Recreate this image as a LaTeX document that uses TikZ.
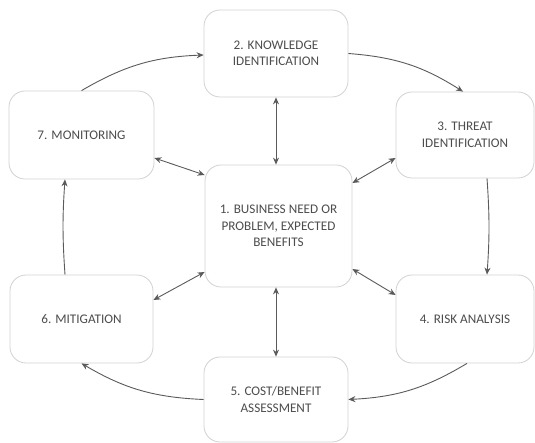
\documentclass[tikz,border=0pt]{standalone}
\usepackage{fontspec}
\setmainfont{Carlito}
\usetikzlibrary{arrows.meta,positioning}
\definecolor{boxline}{HTML}{D2D2D2}
\definecolor{arrowc}{HTML}{5A5A5A}
\definecolor{textc}{HTML}{4D4D4D}
\tikzset{
  stagebox/.style={draw=boxline, line width=0.8pt, rounded corners=16pt, fill=white,
    align=center, text=textc, font=\fontsize{13.2}{16.5}\selectfont, inner sep=2pt},
  flow/.style={draw=arrowc, line width=0.9pt, -{Stealth[length=7pt,width=6pt]}},
  both/.style={draw=arrowc, line width=0.9pt, {Stealth[length=7pt,width=6pt]}-{Stealth[length=7pt,width=6pt]}}
}
\begin{document}
\begin{tikzpicture}[x=1pt,y=-1pt]
\useasboundingbox (0,0) rectangle (535,443);
\node[stagebox, minimum width=144pt, minimum height=87pt] (b2) at (276,53.5) {2. KNOWLEDGE\\IDENTIFICATION};
\node[stagebox, minimum width=138pt, minimum height=86pt] (b3) at (465,135) {3. THREAT\\IDENTIFICATION};
\node[stagebox, minimum width=147pt, minimum height=122pt] (b1) at (278.5,226) {1. BUSINESS NEED OR\\PROBLEM, EXPECTED\\BENEFITS};
\node[stagebox, minimum width=145pt, minimum height=88pt] (b7) at (81.5,135) {7. MONITORING};
\node[stagebox, minimum width=143pt, minimum height=88pt] (b6) at (81.5,319) {6. MITIGATION};
\node[stagebox, minimum width=138pt, minimum height=88pt] (b4) at (465,319) {4. RISK ANALYSIS};
\node[stagebox, minimum width=144pt, minimum height=85pt] (b5) at (276,399.5) {5. COST/BENEFIT\\ASSESSMENT};
% cycle
\draw[flow] (b7.north) to[bend left=14] ([yshift=-1.5pt]b2.west);
\draw[flow] (b2.east) to[bend left=14] ([xshift=-2pt]b3.north);
\draw[flow] ([xshift=22pt]b3.south) to[bend left=4] ([xshift=22pt]b4.north);
\draw[flow] ([xshift=2pt]b4.south) to[bend left=14] (b5.east);
\draw[flow] (b5.west) to[bend left=14] (b6.south);
\draw[flow] ([xshift=-16.5pt]b6.north) to[bend left=4] ([xshift=-16.5pt]b7.south);
% hub
\draw[both] (b2.south) -- ([xshift=-2.5pt]b1.north);
\draw[both] ([xshift=-2.5pt]b1.south) -- (b5.north);
\draw[both] ([yshift=-23pt]b7.east) -- ([yshift=51pt]b1.west);
\draw[both] ([yshift=43pt]b1.east) -- ([yshift=-23pt]b3.west);
\draw[both] ([yshift=-46pt]b1.west) -- ([yshift=19pt]b6.east);
\draw[both] ([yshift=-43pt]b1.east) -- ([yshift=24pt]b4.west);
\end{tikzpicture}
\end{document}
